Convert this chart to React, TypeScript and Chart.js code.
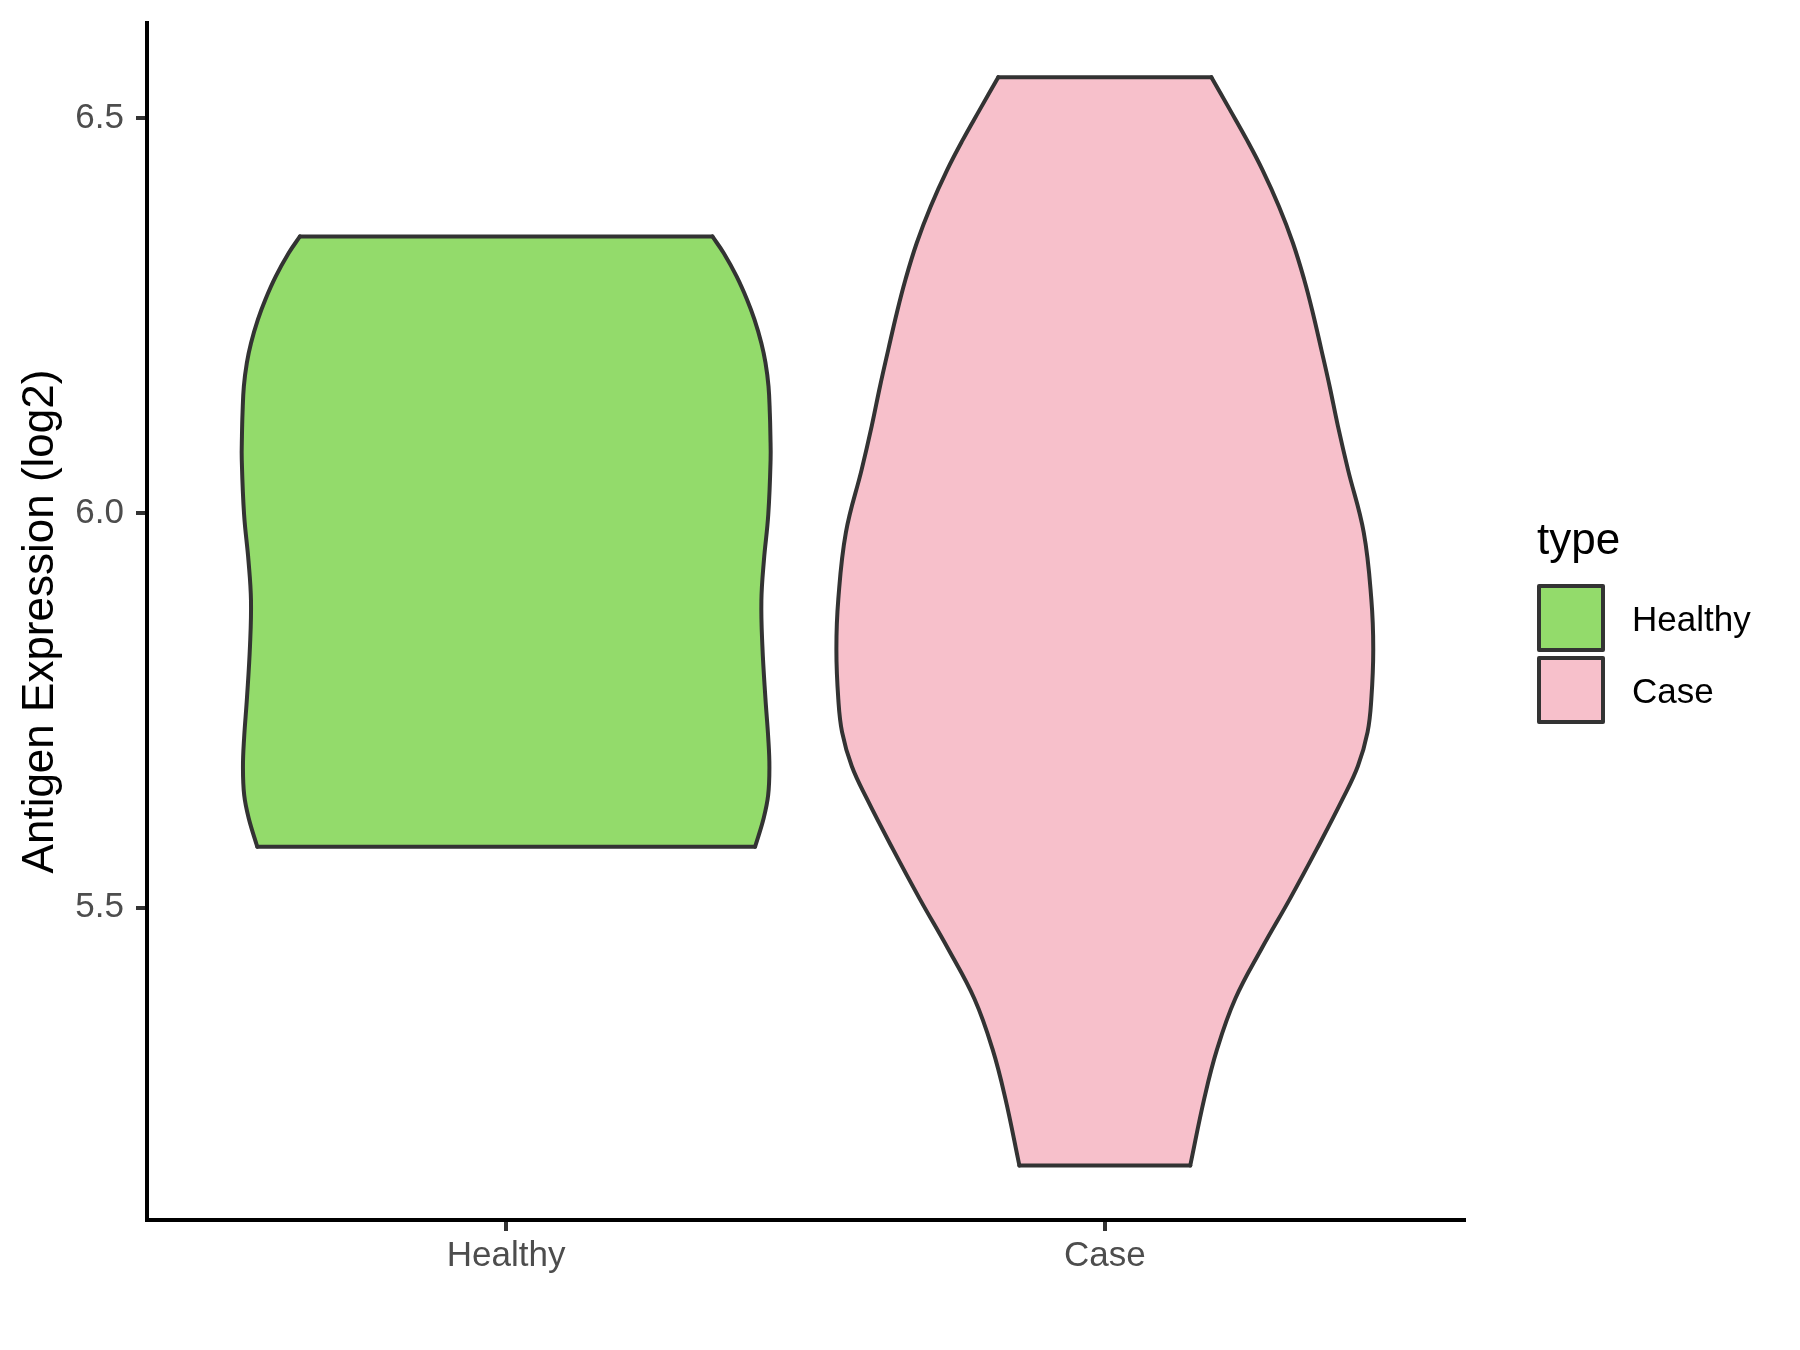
import React, { useEffect, useRef } from "react";
import { Chart, registerables } from "chart.js";

Chart.register(...registerables);

// ---- Data ----
const categories = ["Healthy", "Case"];
const fillColors = ["#93DB6B", "#F7C0CB"];
const outlineColor = "#333333";

// Violin outlines: expression values (top -> bottom) and half-widths (in category units)
const healthyValues = [
  6.3505, 6.3295, 6.2999, 6.2704, 6.2451, 6.2156, 6.1903, 6.1607, 6.127, 6.0974, 6.0679,
  5.9978, 5.9398, 5.889, 5.8309, 5.7656, 5.7148, 5.6785, 5.6422, 5.6132, 5.577,
];
const healthyHalfWidths = [
  0.3445, 0.3633, 0.3849, 0.4024, 0.4148, 0.4262, 0.4332, 0.4382, 0.4404, 0.4414, 0.4417,
  0.4378, 0.4305, 0.4263, 0.428, 0.433, 0.4378, 0.4397, 0.4376, 0.4301, 0.4158,
];

const caseValues = [
  6.5523, 6.5109, 6.4729, 6.4349, 6.3885, 6.3422, 6.2957, 6.2536, 6.2071, 6.1607, 6.1101,
  6.0553, 5.9755, 5.8907, 5.8274, 5.7642, 5.7224, 5.6793, 5.6376, 5.5743, 5.511, 5.4477,
  5.3844, 5.3211, 5.2578, 5.173,
];
const caseHalfWidths = [
  0.178, 0.2091, 0.2373, 0.2633, 0.2909, 0.3142, 0.3331, 0.3475, 0.3617, 0.3755, 0.3894,
  0.4061, 0.4325, 0.4452, 0.4484, 0.4452, 0.4389, 0.4228, 0.3973, 0.3542, 0.3092, 0.2618,
  0.2179, 0.1878, 0.1661, 0.1427,
];

const yTickValues = [5.5, 6.0, 6.5];
const yMin = 5.104;
const yMax = 6.621;
const yTitle = "Antigen Expression (log2)";
const legendTitle = "type";

const FONT = '"Liberation Sans", Arial, Helvetica, sans-serif';
const LINE_W = 4;

function side(center: number, values: number[], widths: number[], sign: number) {
  return values.map((v, k) => ({ x: center + sign * widths[k], y: v }));
}
function edge(center: number, value: number, width: number) {
  return [
    { x: center - width, y: value },
    { x: center + width, y: value },
  ];
}

const legendPlugin = {
  id: "violinLegend",
  afterDraw(chart: any) {
    const { ctx, chartArea } = chart;
    const left = chartArea.right + 73;
    ctx.save();
    ctx.fillStyle = "#000000";
    ctx.textAlign = "left";
    ctx.textBaseline = "alphabetic";
    ctx.font = `44px ${FONT}`;
    ctx.fillText(legendTitle, left, 554);
    const boxTop = 584;
    const boxSize = 68;
    const step = 72;
    categories.forEach((name, i) => {
      const y = boxTop + i * step;
      ctx.fillStyle = fillColors[i];
      ctx.fillRect(left + 2, y + 2, boxSize - 4, boxSize - 4);
      ctx.lineWidth = LINE_W;
      ctx.strokeStyle = outlineColor;
      ctx.lineJoin = "round";
      ctx.strokeRect(left + 2, y + 2, boxSize - 4, boxSize - 4);
      ctx.fillStyle = "#000000";
      ctx.font = `35px ${FONT}`;
      ctx.fillText(name, left + 95, y + boxSize / 2 + 12.5);
    });
    ctx.restore();
  },
};

export default function App() {
  const ref = useRef<HTMLCanvasElement | null>(null);

  useEffect(() => {
    document.body.style.margin = "0";
    document.body.style.overflow = "hidden";
    const canvas = ref.current;
    if (!canvas) return;

    const violins = [
      { values: healthyValues, widths: healthyHalfWidths },
      { values: caseValues, widths: caseHalfWidths },
    ];

    const base = {
      borderColor: outlineColor,
      borderWidth: LINE_W,
      pointRadius: 0,
      pointHoverRadius: 0,
      borderCapStyle: "round",
      borderJoinStyle: "round",
    };

    const datasets: any[] = [];
    violins.forEach((vl, i) => {
      const c = i + 1;
      const n = vl.values.length;
      const leftIndex = datasets.length;
      datasets.push({
        ...base,
        label: categories[i] + " left",
        data: side(c, vl.values, vl.widths, -1),
        fill: false,
        tension: 0.4,
        order: 1,
      });
      datasets.push({
        ...base,
        label: categories[i] + " right",
        data: side(c, vl.values, vl.widths, 1),
        fill: leftIndex,
        backgroundColor: fillColors[i],
        tension: 0.4,
        order: 2,
      });
      datasets.push({
        ...base,
        label: categories[i] + " top",
        data: edge(c, vl.values[0], vl.widths[0]),
        fill: false,
        tension: 0,
        order: 1,
      });
      datasets.push({
        ...base,
        label: categories[i] + " bottom",
        data: edge(c, vl.values[n - 1], vl.widths[n - 1]),
        fill: false,
        tension: 0,
        order: 1,
      });
    });

    const chart = new Chart(canvas, {
      type: "line",
      data: { datasets },
      plugins: [legendPlugin],
      options: {
        indexAxis: "y",
        responsive: false,
        animation: false,
        devicePixelRatio: 1,
        layout: { padding: { top: 23, right: 336, bottom: 0, left: 0 } },
        plugins: {
          legend: { display: false },
          tooltip: { enabled: false },
          filler: { propagate: false },
        },
        scales: {
          x: {
            type: "linear",
            position: "bottom",
            min: 0.4,
            max: 2.6,
            afterFit: (scale: any) => {
              scale.height = 130;
              scale.paddingLeft = 0;
              scale.paddingRight = 0;
            },
            afterBuildTicks: (scale: any) => {
              scale.ticks = categories.map((_, i) => ({ value: i + 1 }));
            },
            border: { display: true, color: "#000000", width: LINE_W },
            grid: {
              display: true,
              drawOnChartArea: false,
              drawTicks: true,
              tickLength: 11,
              tickColor: outlineColor,
              tickWidth: LINE_W,
              lineWidth: LINE_W,
            },
            ticks: {
              autoSkip: false,
              maxRotation: 0,
              padding: 4,
              color: "#4D4D4D",
              font: { family: FONT, size: 35 },
              callback: (v: any) => categories[Math.round(Number(v)) - 1] ?? "",
            },
          },
          y: {
            type: "linear",
            position: "left",
            min: yMin,
            max: yMax,
            afterFit: (scale: any) => {
              scale.width = 147;
              scale.paddingTop = 0;
              scale.paddingBottom = 0;
            },
            afterBuildTicks: (scale: any) => {
              scale.ticks = yTickValues.map((v) => ({ value: v }));
            },
            border: { display: true, color: "#000000", width: LINE_W },
            grid: {
              display: true,
              drawOnChartArea: false,
              drawTicks: true,
              tickLength: 11,
              tickColor: outlineColor,
              tickWidth: LINE_W,
              lineWidth: LINE_W,
            },
            ticks: {
              padding: 12,
              color: "#4D4D4D",
              font: { family: FONT, size: 35 },
              callback: (v: any) => Number(v).toFixed(1),
            },
            title: {
              display: true,
              text: yTitle,
              color: "#000000",
              font: { family: FONT, size: 44 },
              padding: { top: 14, bottom: 0 },
            },
          },
        },
      } as any,
    });

    return () => chart.destroy();
  }, []);

  return (
    <canvas
      ref={ref}
      width={1800}
      height={1350}
      style={{ display: "block", width: "1800px", height: "1350px" }}
    />
  );
}
